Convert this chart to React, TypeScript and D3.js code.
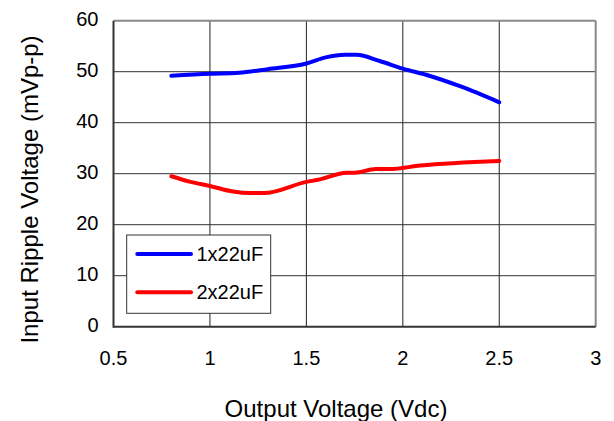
import React from "react";
import * as d3 from "d3";

const xTicks = [0.5, 1, 1.5, 2, 2.5, 3];
const yTicks = [0, 10, 20, 30, 40, 50, 60];

const blueX = [0.8, 1.0, 1.15, 1.3, 1.5, 1.6, 1.7, 1.76, 1.88, 2.0, 2.12, 2.3, 2.5];
const blueY = [49.2, 49.6, 49.8, 50.5, 51.6, 52.8, 53.3, 53.3, 52.1, 50.6, 49.4, 47.1, 44.0];

const redX = [0.8, 0.9, 1.0, 1.12, 1.21, 1.28, 1.5, 1.56, 1.71, 1.75, 1.86, 1.93, 2.09, 2.5];
const redY = [29.5, 28.4, 27.6, 26.5, 26.2, 26.2, 28.4, 28.8, 30.2, 30.2, 30.9, 30.9, 31.6, 32.5];

const seriesNames = ["1x22uF", "2x22uF"];
const seriesColors = ["#0000ff", "#ff0000"];

const W = 614, H = 421;
const L = 113.5, R = 595.7, T = 20.7, B = 326.7;
const font = "'Liberation Sans', Arial, sans-serif";

export default function App() {
  const x = d3.scaleLinear().domain([0.5, 3]).range([L, R]);
  const y = d3.scaleLinear().domain([0, 60]).range([B, T]);
  const line = d3.line<[number, number]>().x(d => x(d[0])).y(d => y(d[1])).curve(d3.curveMonotoneX);
  const blue: [number, number][] = blueX.map((v, i) => [v, blueY[i]]);
  const red: [number, number][] = redX.map((v, i) => [v, redY[i]]);
  const data = [blue, red];

  return (
    <svg width={W} height={H} style={{ position: "absolute", left: 0, top: 0, background: "#fff" }}>
      {xTicks.slice(1, -1).map(t => (
        <line key={"gx" + t} x1={x(t)} x2={x(t)} y1={T} y2={B} stroke="#222" strokeWidth={1} />
      ))}
      {yTicks.slice(1, -1).map(t => (
        <line key={"gy" + t} x1={L} x2={R} y1={y(t)} y2={y(t)} stroke="#333" strokeWidth={1} />
      ))}
      <line x1={L} x2={R} y1={T} y2={T} stroke="#888" strokeWidth={2} />
      <line x1={R} x2={R} y1={T} y2={B} stroke="#888" strokeWidth={2} />
      <line x1={L} x2={L} y1={T} y2={B + 1} stroke="#333" strokeWidth={2} />
      <line x1={L} x2={R} y1={B} y2={B} stroke="#333" strokeWidth={2} />

      {data.map((d, i) => (
        <path key={i} d={line(d) || ""} fill="none" stroke={seriesColors[i]} strokeWidth={4} strokeLinecap="round" strokeLinejoin="round" />
      ))}

      {yTicks.map(t => (
        <text key={"ty" + t} x={L - 15} y={y(t) + 5} textAnchor="end" fontFamily={font} fontSize={20} fill="#000">{t}</text>
      ))}
      {xTicks.map(t => (
        <text key={"tx" + t} x={x(t)} y={364.5} textAnchor="middle" fontFamily={font} fontSize={20} fill="#000">{t}</text>
      ))}

      <text x={336} y={417} textAnchor="middle" fontFamily={font} fontSize={24} fill="#000">Output Voltage (Vdc)</text>
      <text transform={`translate(38,189.5) rotate(-90)`} textAnchor="middle" fontFamily={font} fontSize={24} fill="#000">Input Ripple Voltage (mVp-p)</text>

      <rect x={126.7} y={235} width={144} height={78.3} fill="#fff" stroke="#333" strokeWidth={1} />
      {seriesNames.map((n, i) => {
        const yy = 254 + i * 38.3;
        return (
          <g key={n}>
            <line x1={137.3} x2={191} y1={yy} y2={yy} stroke={seriesColors[i]} strokeWidth={4} strokeLinecap="round" />
            <text x={196.5} y={yy + 7} fontFamily={font} fontSize={20} fill="#000">{n}</text>
          </g>
        );
      })}
    </svg>
  );
}
